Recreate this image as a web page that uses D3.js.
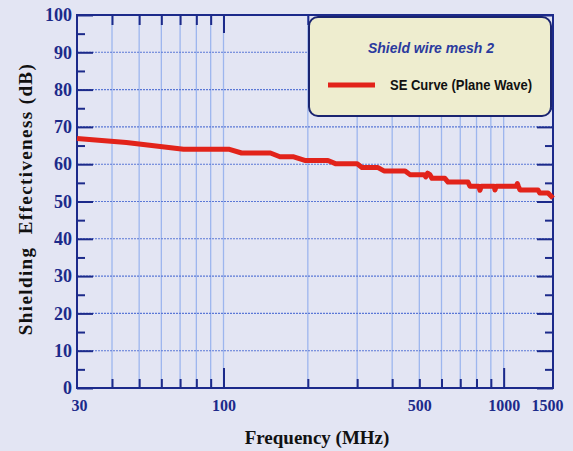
<!DOCTYPE html>
<html><head><meta charset="utf-8">
<script src="https://cdn.jsdelivr.net/npm/d3@7"></script>
<style>
html,body{margin:0;padding:0;background:#e3e5f3;}
svg{display:block;}
</style></head>
<body>
<svg id="c" width="573" height="451"></svg>
<script>
// ---- data ----
const freqMHz = [30, 45, 72, 105, 116, 147, 159, 177, 195, 236, 252, 300, 312, 356, 374, 445, 463, 520, 527, 535, 545, 555, 617, 633, 746, 758, 815, 823, 832, 925, 931, 940, 1110, 1119, 1128, 1144, 1326, 1345, 1440, 1500];
const seDB    = [66.9, 65.8, 64.0, 64.0, 63.0, 63.0, 62.0, 62.0, 61.0, 61.0, 60.1, 60.1, 59.1, 59.1, 58.2, 58.2, 57.2, 57.2, 56.6, 57.6, 57.2, 56.2, 56.2, 55.2, 55.2, 54.1, 54.1, 53.0, 54.1, 54.1, 53.1, 54.1, 54.1, 54.8, 54.1, 53.1, 53.1, 52.3, 52.3, 50.9];
const xGrid = [40, 50, 60, 70, 80, 90, 100, 200, 300, 400, 500, 600, 700, 800, 900, 1000];
const xMajor = [100, 1000];
const xLabels = [30, 100, 500, 1000, 1500];
const yMajor = [0, 10, 20, 30, 40, 50, 60, 70, 80, 90, 100];
const yMinor = [5, 15, 25, 35, 45, 55, 65, 75, 85, 95];
const seriesName = "SE Curve (Plane Wave)";
const legendTitle = "Shield wire mesh 2";
const xTitle = "Frequency (MHz)";
const yTitle = "Shielding  Effectiveness (dB)";

// ---- chart ----
const svg = d3.select("#c");
const L = 77, R = 553, T = 15, B = 388;
const x = d3.scaleLog().domain([30, 1500]).range([L, R]);
const y = d3.scaleLinear().domain([0, 100]).range([B, T]);
const navy = "#1c2a8a";
const serif = "'Liberation Serif','DejaVu Serif',serif";

svg.append("rect").attr("width", 573).attr("height", 451).attr("fill", "#e3e5f3");

// vertical grid
svg.append("g").selectAll("line").data(xGrid).join("line")
  .attr("x1", d => x(d)).attr("x2", d => x(d)).attr("y1", T).attr("y2", B)
  .attr("stroke", "#9db6ee").attr("stroke-width", 1.3);
// horizontal grid
svg.append("g").selectAll("line").data(yMajor.filter(d => d > 0 && d < 100)).join("line")
  .attr("x1", L).attr("x2", R).attr("y1", d => y(d)).attr("y2", d => y(d))
  .attr("stroke", "#5b78d6").attr("stroke-width", 1.1).attr("stroke-dasharray", "2,1");

// tick marks via axes (inward)
function tickAxis(axis, tr) {
  const g = svg.append("g").attr("transform", tr).call(axis);
  g.select(".domain").remove();
  g.selectAll(".tick line").attr("stroke", navy).attr("stroke-width", 2);
  g.selectAll("text").remove();
  return g;
}
tickAxis(d3.axisBottom(x).tickValues(xGrid.filter(d => !xMajor.includes(d))).tickSize(-9).tickFormat(""), `translate(0,${B})`);
tickAxis(d3.axisBottom(x).tickValues(xMajor).tickSize(-20).tickFormat(""), `translate(0,${B})`);
tickAxis(d3.axisTop(x).tickValues(xGrid.filter(d => !xMajor.includes(d))).tickSize(-10).tickFormat(""), `translate(0,${T})`);
tickAxis(d3.axisTop(x).tickValues(xMajor).tickSize(-18).tickFormat(""), `translate(0,${T})`);
tickAxis(d3.axisLeft(y).tickValues(yMajor).tickSize(-16).tickFormat(""), `translate(${L},0)`);
tickAxis(d3.axisLeft(y).tickValues(yMinor).tickSize(-8).tickFormat(""), `translate(${L},0)`);
tickAxis(d3.axisRight(y).tickValues(yMajor).tickSize(-16).tickFormat(""), `translate(${R},0)`);
tickAxis(d3.axisRight(y).tickValues(yMinor).tickSize(-8).tickFormat(""), `translate(${R},0)`);

// frame
svg.append("rect").attr("x", L).attr("y", T).attr("width", R - L).attr("height", B - T)
  .attr("fill", "none").attr("stroke", navy).attr("stroke-width", 2);

// labels
const yl = svg.append("g").attr("transform", `translate(${L},0)`)
  .call(d3.axisLeft(y).tickValues(yMajor).tickSize(0).tickPadding(5).tickFormat(d3.format("d")));
yl.select(".domain").remove();
yl.selectAll("text").attr("font-family", serif).attr("font-weight", "bold")
  .attr("font-size", 18).attr("fill", navy);

const xl = svg.append("g").attr("transform", `translate(0,${B})`)
  .call(d3.axisBottom(x).tickValues(xLabels).tickSize(0).tickPadding(12).tickFormat(d3.format("d")));
xl.select(".domain").remove();
xl.selectAll("text").attr("font-family", serif).attr("font-weight", "bold")
  .attr("font-size", 16).attr("fill", navy);
xl.selectAll(".tick").filter(d => d === 1500).select("text").attr("text-anchor", "end").attr("x", 10);
xl.selectAll(".tick").filter(d => d === 30).select("text").attr("x", 2);

// axis titles
svg.append("text").attr("x", 317).attr("y", 444).attr("text-anchor", "middle")
  .attr("font-family", serif).attr("font-weight", "bold").attr("font-size", 19).attr("fill", "#111")
  .text(xTitle);
svg.append("text").attr("transform", "translate(32,199) rotate(-90)").attr("text-anchor", "middle")
  .attr("font-family", serif).attr("font-weight", "bold").attr("font-size", 19).attr("fill", "#111")
  .attr("letter-spacing", 1.4).style("white-space", "pre")
  .text(yTitle);

// curve
const line = d3.line().x((d, i) => x(freqMHz[i])).y(d => y(d));
svg.append("path").datum(seDB).attr("d", line).attr("fill", "none")
  .attr("stroke", "#e2231a").attr("stroke-width", 5).attr("stroke-linejoin", "round").attr("stroke-linecap", "butt");

// legend
const lg = svg.append("g");
lg.append("rect").attr("x", 309).attr("y", 17).attr("width", 242).attr("height", 99).attr("rx", 9)
  .attr("fill", "#eeedcf").attr("stroke", "#1a2470").attr("stroke-width", 2);
lg.append("text").attr("x", 431).attr("y", 53).attr("text-anchor", "middle")
  .attr("font-family", "'Liberation Sans',Arial,sans-serif").attr("font-weight", "bold").attr("font-style", "italic")
  .attr("font-size", 14).attr("fill", "#2a3a9e").text(legendTitle);
lg.append("line").attr("x1", 328).attr("x2", 375).attr("y1", 85).attr("y2", 85)
  .attr("stroke", "#e2231a").attr("stroke-width", 5);
lg.append("text").attr("x", 390).attr("y", 90)
  .attr("font-family", "'Liberation Sans',Arial,sans-serif").attr("font-size", 14.5).attr("font-weight", "600")
  .attr("fill", "#111").attr("textLength", 142).attr("lengthAdjust", "spacingAndGlyphs").text(seriesName);
</script>
</body></html>
